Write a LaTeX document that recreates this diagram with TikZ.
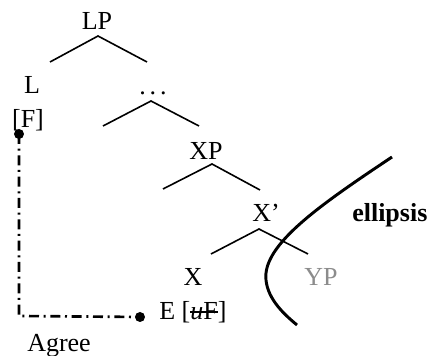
\documentclass[tikz,border=0pt]{standalone}
\usepackage{fontspec}
\setmainfont{Liberation Serif}
\newcommand\strk[1]{\sbox0{#1}\makebox[0pt][l]{\rule[0.28em]{\wd0}{0.07em}}\usebox0}
\tikzset{
  lbl/.style={font=\fontsize{19.5}{22}\selectfont, inner sep=0pt, anchor=base},
  branch/.style={line width=1.2pt},
  agreeline/.style={line width=2pt, dash pattern=on 7.5pt off 3.5pt on 1.5pt off 3.5pt},
  dotmark/.style={circle, fill=black, inner sep=0pt, minimum size=7.5pt},
}
\begin{document}
\begin{tikzpicture}[x=0.75pt,y=-0.75pt]
\useasboundingbox (0,0) rectangle (430,356);
% labels
\node[lbl] (LP) at (97,30) {LP};
\node[lbl] (L) at (32,94) {L};
\node[lbl] (F) at (28,128) {[F]};
\node[lbl] (dots) at (153,95) {.\hspace{0.15em}.\hspace{0.15em}.};
\node[lbl] (XP) at (206,160) {XP};
\node[lbl] (Xbar) at (266,222) {X’};
\node[lbl] (X) at (193,286) {X};
\node[lbl, text=black!45] (YP) at (321,286) {YP};
\node[lbl, anchor=base west] (E) at (159,320) {E [\strk{\textit{u}F}]};
\node[lbl, anchor=base west] (agree) at (27,352) {Agree};
\node[lbl, anchor=base west, font=\fontsize{19.5}{22}\selectfont\bfseries] (ell) at (352,222) {ellipsis};
% branch coordinates
\coordinate (a1) at (98,36);  \coordinate (l1) at (50,62);  \coordinate (r1) at (147,62);
\coordinate (a2) at (151,101); \coordinate (l2) at (103,126); \coordinate (r2) at (199,126);
\coordinate (a3) at (212,164); \coordinate (l3) at (163,189); \coordinate (r3) at (260,190);
\coordinate (a4) at (259,229); \coordinate (l4) at (211,254); \coordinate (r4) at (308,254);
\draw[branch] (l1) -- (a1) -- (r1);
\draw[branch] (l2) -- (a2) -- (r2);
\draw[branch] (l3) -- (a3) -- (r3);
\draw[branch] (l4) -- (a4) -- (r4);
% agree
\node[dotmark] (d1) at (19,134) {};
\node[dotmark] (d2) at (140,317) {};
\coordinate (corner) at (19,316);
\draw[agreeline] (d1.center) -- (corner) -- (d2.center);
% ellipsis curve
\coordinate (c0) at (392,157);
\coordinate (c1) at (266,280);
\coordinate (c2) at (297,325);
\draw[line width=2.2pt] (c0) .. controls (320,205) and (262,245) .. (c1) .. controls (268,300) and (285,315) .. (c2);
\end{tikzpicture}
\end{document}
